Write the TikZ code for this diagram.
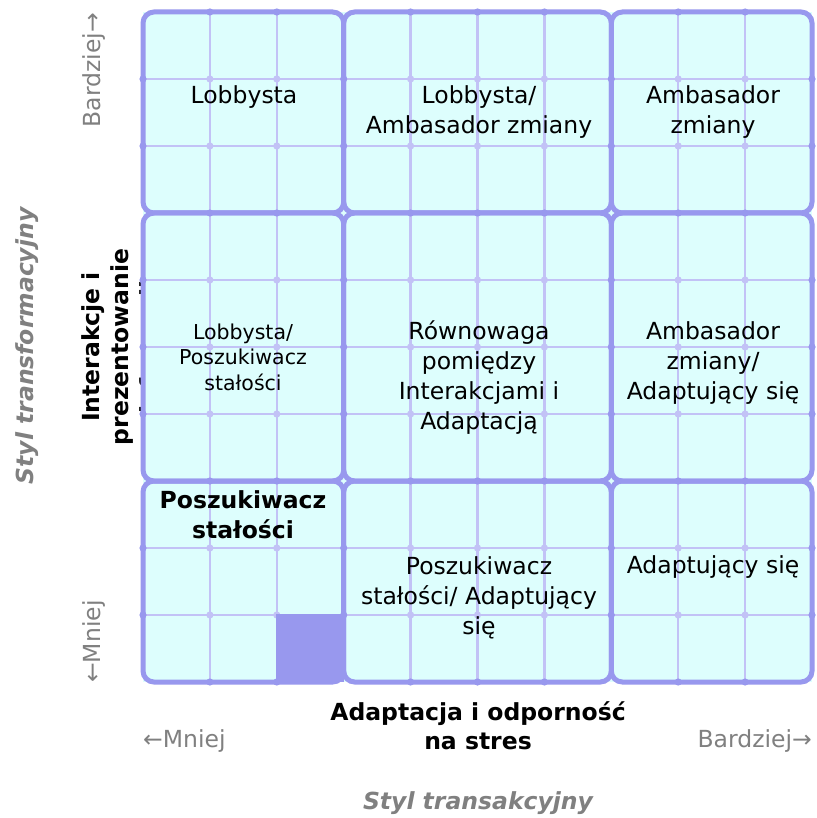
\documentclass[tikz,border=0pt]{standalone}
\usepackage{fontspec}
\setmainfont{DejaVu Sans}
\definecolor{cellfill}{RGB}{221,254,253}
\definecolor{gridedge}{RGB}{152,152,238}
\definecolor{gridthin}{RGB}{194,194,246}
\definecolor{axisgray}{RGB}{128,128,128}
\tikzset{
  celltext/.style={align=center, inner sep=0pt, font=\fontsize{23.5}{30}\selectfont},
  smalltext/.style={align=center, inner sep=0pt, font=\fontsize{20.5}{25.5}\selectfont},
  boldtext/.style={align=center, inner sep=0pt, font=\fontsize{23.5}{30}\selectfont\bfseries},
  axislabel/.style={align=center, inner sep=0pt, font=\fontsize{23.5}{29}\selectfont\bfseries},
  axisnote/.style={inner sep=0pt, text=axisgray, font=\fontsize{23.5}{29}\selectfont},
  axistitle/.style={inner sep=0pt, text=axisgray, font=\fontsize{23.5}{29}\selectfont\bfseries\itshape},
  block/.style={draw=gridedge, line width=5pt, rounded corners=11pt},
  thinline/.style={draw=gridthin, line width=2.4pt},
}
\begin{document}
\begin{tikzpicture}[x=1pt,y=-1pt]
\useasboundingbox (0,0) rectangle (816,818);
\fill[white] (0,0) rectangle (816,818);

% vertical axis labels (drawn first so the grid covers the overflowing line)
\node[axislabel, rotate=90] (ylab) at (122,347) {Interakcje i\\prezentowanie\\informacji};
\node[axistitle, rotate=90] (ytitle) at (27,346) {Styl transformacyjny};
\node[axisnote, rotate=90, anchor=east] (ymore) at (94,13) {Bardziej→};
\node[axisnote, rotate=90, anchor=west] (yless) at (94,683) {←Mniej};

% background of the 10x10 grid
\fill[cellfill] (143,12) rectangle (812,682);

% thin cell lines
\foreach \k in {1,2,4,5,6,8,9} {
  \draw[thinline] ({143+\k*66.9},12) -- ({143+\k*66.9},682);
  \draw[thinline] (143,{12+\k*67}) -- (812,{12+\k*67});
}
\foreach \i in {1,2,4,5,6,8,9}
  \foreach \j in {1,2,4,5,6,8,9}
    \fill[gridthin] ({143+\i*66.9},{12+\j*67}) circle (3.6pt);

% nine rounded blocks
\foreach \xa/\xb in {0/3,3/7,7/10}
  \foreach \ya/\yb in {0/3,3/7,7/10}
    \draw[block] ({143+\xa*66.9},{12+\ya*67}) rectangle ({143+\xb*66.9},{12+\yb*67});

% knots where thin lines meet block edges
\foreach \i in {0,3,7,10}
  \foreach \j in {1,2,4,5,6,8,9} {
    \fill[gridedge] ({143+\i*66.9},{12+\j*67}) circle (3.6pt);
    \fill[gridedge] ({143+\j*66.9},{12+\i*67}) circle (3.6pt);
  }

% highlighted cell
\fill[gridedge] ({143+2*66.9-1.2},{12+9*67-1.2}) rectangle ({143+3*66.9},{12+10*67});

% block texts
\node[celltext] (lob) at (244,97) {Lobbysta};
\node[celltext] (lobamb) at (479,112) {Lobbysta/\\Ambasador zmiany};
\node[celltext] (amb) at (713,112) {Ambasador\\zmiany};
\node[smalltext] (lobposz) at (243,357) {Lobbysta/\\Poszukiwacz\\stałości};
\node[celltext] (rown) at (479,378) {Równowaga\\pomiędzy\\Interakcjami i\\Adaptacją};
\node[celltext] (ambadap) at (713,363) {Ambasador\\zmiany/\\Adaptujący się};
\node[boldtext] (posz) at (243,515) {Poszukiwacz\\stałości};
\node[celltext] (poszadap) at (479,598) {Poszukiwacz\\stałości/ Adaptujący\\się};
\node[celltext] (adap) at (713,567) {Adaptujący się};

% horizontal axis labels
\node[axislabel] (xlab) at (478,726) {Adaptacja i odporność\\na stres};
\node[axisnote, anchor=west] (xless) at (143,741) {←Mniej};
\node[axisnote, anchor=east] (xmore) at (812,741) {Bardziej→};
\node[axistitle] (xtitle) at (478,803) {Styl transakcyjny};
\end{tikzpicture}
\end{document}
